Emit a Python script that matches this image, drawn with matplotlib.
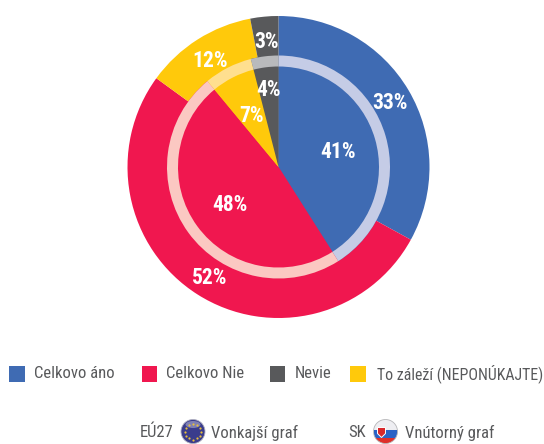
import numpy as np
import matplotlib
matplotlib.use("Agg")
import matplotlib.pyplot as plt
from matplotlib.patches import Rectangle, Circle, Ellipse, Polygon

categories = ["Celkovo áno", "Celkovo Nie", "Nevie", "To záleží (NEPONÚKAJTE)"]
outer_values = [33, 52, 12, 3]   # EÚ27
inner_values = [41, 48, 7, 4]    # SK
outer_colors = ["#3f6bb3", "#f0174f", "#ffc90b", "#58595b"]
inner_ring_colors = ["#c5cce6", "#fbc8c2", "#ffdf8f", "#b9babc"]
legend_colors = ["#3f6bb3", "#f0174f", "#58595b", "#ffc90b"]
legend_x = [9, 141.5, 269.5, 350]
legend_text_x = [34, 166.5, 295, 377]
legend_sizes = [12, 12, 12, 11.4]

W, H = 544, 444
CX, CY = 278.5, 167
R_OUT, R_IN, R_RING = 151, 111.5, 11

fig = plt.figure(figsize=(W / 100, H / 100), dpi=100)
ax = fig.add_axes([0, 0, 1, 1])

def Y(y):
    return H - y

pie_kw = dict(startangle=90, counterclock=False, center=(CX, Y(CY)), frame=True)
ax.pie(outer_values, radius=R_OUT, colors=outer_colors, wedgeprops=dict(linewidth=0), **pie_kw)
ax.pie(inner_values, radius=R_IN, colors=outer_colors, wedgeprops=dict(linewidth=0), **pie_kw)
ax.pie(inner_values, radius=R_IN, colors=inner_ring_colors,
       wedgeprops=dict(width=R_RING, linewidth=0), **pie_kw)
ax.set_xlim(0, W)
ax.set_ylim(0, H)
ax.set_aspect("equal")
ax.axis("off")

cond = "Roboto Condensed"

def put_labels(values, radii):
    cum = 0
    for v, r in zip(values, radii):
        a = np.deg2rad((cum + v / 2) * 3.6)
        cum += v
        ax.text(CX + r * np.sin(a) + 0.5, Y(CY) + r * np.cos(a) - 2, f"{v}%", color="white",
                fontsize=15.5, fontweight="bold", family=cond,
                ha="center", va="center")

put_labels(outer_values, [129, 129, 128, 128])
put_labels(inner_values, [61, 61, 60, 80])

txt = "#58595b"
for name, col, x, tx, fs in zip(categories, legend_colors, legend_x, legend_text_x, legend_sizes):
    ax.add_patch(Rectangle((x, Y(382)), 15.5, 16, fc=col, ec="none"))
    ax.text(tx, Y(373.5), name, color=txt, fontsize=fs, family=cond, ha="left", va="center")

for label, x in [("EÚ27", 140), ("Vonkajší graf", 211), ("SK", 348), ("Vnútorný graf", 405)]:
    ax.text(x, Y(432.5), label, color=txt, fontsize=12, family=cond, ha="left", va="center")

# EU flag badge
fx, fy, fr = 193, Y(431.5), 12
ax.add_patch(Circle((fx, fy), fr, fc="#3a3c8c", ec="#b0b0c0", lw=0.6))
ax.add_patch(Ellipse((fx, fy + 7), 15, 7, fc="white", ec="none", alpha=0.35))
for k in range(12):
    t = k * np.pi / 6
    ax.plot(fx + 8 * np.cos(t), fy + 8 * np.sin(t), "o", ms=1.6, color="#e8bf3a", mew=0)

# SK flag badge
sx, sy, sr = 385.5, Y(431.5), 12
clip = Circle((sx, sy), sr, transform=ax.transData)
for y0, h, c in [(sy + 2, 10, "#eeeef2"), (sy - 6, 8, "#2a62c6"), (sy - 12, 6, "#de2f2a")]:
    p = ax.add_patch(Rectangle((sx - sr, y0), 2 * sr, h, fc=c, ec="none"))
    p.set_clip_path(clip)
ax.add_patch(Circle((sx, sy), sr, fc="none", ec="#b5b5b8", lw=0.6))
ax.add_patch(Polygon([(sx - 8, sy + 4), (sx, sy + 4), (sx, sy - 2), (sx - 4, sy - 6), (sx - 8, sy - 2)],
                     closed=True, fc="#d8282c", ec="white", lw=0.7))

fig.savefig("out.png", dpi=100)
